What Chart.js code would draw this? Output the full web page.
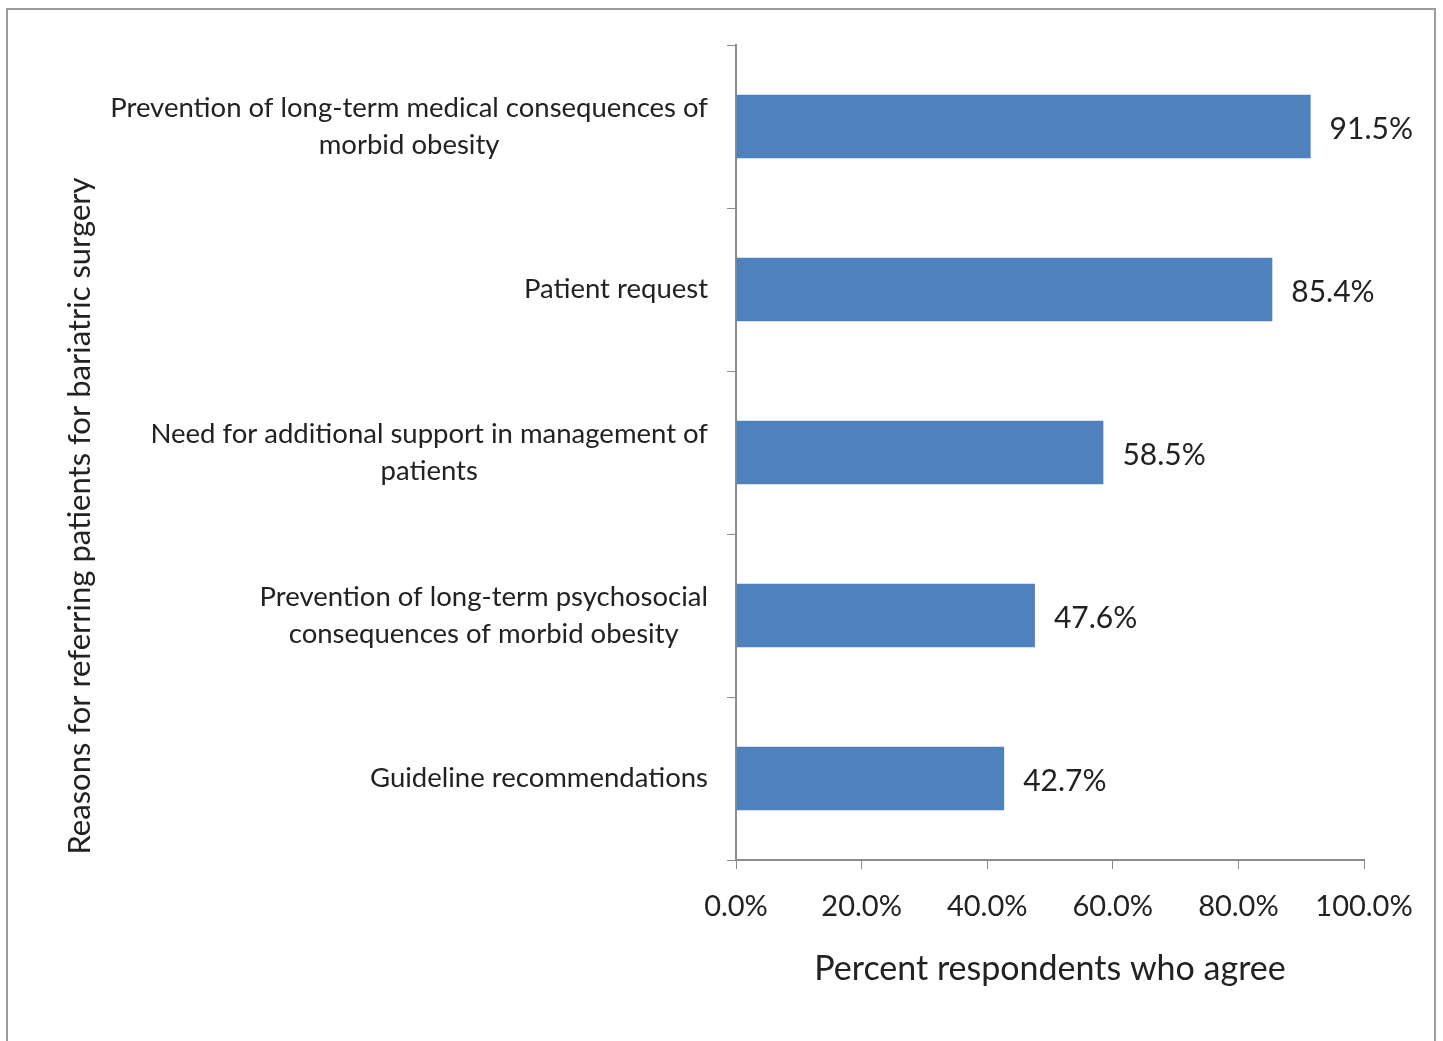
<!DOCTYPE html>
<html>
<head>
<meta charset="utf-8">
<script src="https://cdn.jsdelivr.net/npm/chart.js@4/dist/chart.umd.min.js"></script>
<style>
  body { margin: 0; background: #fff; }
  canvas { display: block; }
</style>
</head>
<body>
<canvas id="chart" width="1443" height="1041"></canvas>
<script>
// categories (multi-line labels, top to bottom)
var reasons = [
  ["Prevention of long-term medical consequences of", "morbid obesity"],
  ["Patient request"],
  ["Need for additional support in management of", "patients"],
  ["Prevention of long-term psychosocial", "consequences of morbid obesity"],
  ["Guideline recommendations"]
];
var agreePct = [91.5, 85.4, 58.5, 47.6, 42.7];
var xTicks = [0, 20, 40, 60, 80, 100];

var yTitle = "Reasons for referring patients for bariatric surgery";
var xTitle = "Percent respondents who agree";

var FONT = "Lato";
var textColor = "#222";
var axisColor = "#8c8c8c";
var padBottom = 52;

// frame, category labels, value labels, y title
var extras = {
  id: "extras",
  beforeDraw: function(chart) {
    var ctx = chart.ctx;
    ctx.save();
    ctx.fillStyle = "#fff";
    ctx.fillRect(0, 0, chart.width, chart.height);
    ctx.strokeStyle = "#9a9a9a";
    ctx.lineWidth = 2;
    ctx.strokeRect(7, 9, 1428, 1040);
    ctx.restore();
  },
  afterDraw: function(chart) {
    var ctx = chart.ctx;
    var ys = chart.scales.y, xs = chart.scales.x;
    ctx.save();
    ctx.fillStyle = textColor;
    ctx.textBaseline = "middle";

    // category labels: block right aligned, lines centered
    ctx.font = "27.5px " + FONT;
    var right = ys.right - 28;
    reasons.forEach(function(lines, i) {
      var cy = ys.getPixelForValue(i);
      var w = 0;
      lines.forEach(function(l) { w = Math.max(w, ctx.measureText(l).width); });
      var cx = right - w / 2;
      ctx.textAlign = "center";
      var lh = 37;
      var y0 = cy - (lines.length - 1) * lh / 2;
      lines.forEach(function(l, k) { ctx.fillText(l, cx, y0 + k * lh); });
    });

    // value labels
    ctx.font = "30px " + FONT;
    ctx.textAlign = "left";
    agreePct.forEach(function(v, i) {
      ctx.fillText(v.toFixed(1) + "%", xs.getPixelForValue(v) + 19, ys.getPixelForValue(i) + 3);
    });

    // y title
    ctx.font = "31px " + FONT;
    ctx.textAlign = "center";
    ctx.translate(80, 516);
    ctx.rotate(-Math.PI / 2);
    ctx.fillText(yTitle, 0, 0);
    ctx.restore();
  }
};

new Chart(document.getElementById("chart"), {
  type: "bar",
  data: {
    labels: reasons,
    datasets: [{
      data: agreePct,
      backgroundColor: "#4f81bd",
      borderWidth: 0,
      categoryPercentage: 1,
      barPercentage: 0.39
    }]
  },
  options: {
    indexAxis: "y",
    responsive: false,
    animation: false,
    devicePixelRatio: 1,
    layout: { padding: { left: 0, right: 79, top: 45, bottom: padBottom } },
    plugins: { legend: { display: false }, tooltip: { enabled: false } },
    scales: {
      y: {
        type: "category",
        grid: { display: true, drawOnChartArea: false, color: axisColor, tickLength: 9, offset: true },
        border: { display: true, color: axisColor, width: 2 },
        ticks: { display: false },
        afterFit: function(s) { s.width = 736; }
      },
      x: {
        min: 0,
        max: 100,
        afterBuildTicks: function(s) { s.ticks = xTicks.map(function(v) { return { value: v }; }); },
        grid: { display: true, drawOnChartArea: false, color: axisColor, tickLength: 9 },
        border: { display: true, color: axisColor, width: 2 },
        ticks: {
          color: textColor,
          font: { family: FONT, size: 29 },
          padding: 20,
          maxRotation: 0,
          callback: function(v) { return Number(v).toFixed(1) + "%"; }
        },
        title: {
          display: true,
          text: xTitle,
          color: textColor,
          font: { family: FONT, size: 34 },
          padding: { top: 0, bottom: 0 }
        },
        afterFit: function(s) { s.height = 1041 - padBottom - 860; }
      }
    }
  },
  plugins: [extras]
});
</script>
</body>
</html>
